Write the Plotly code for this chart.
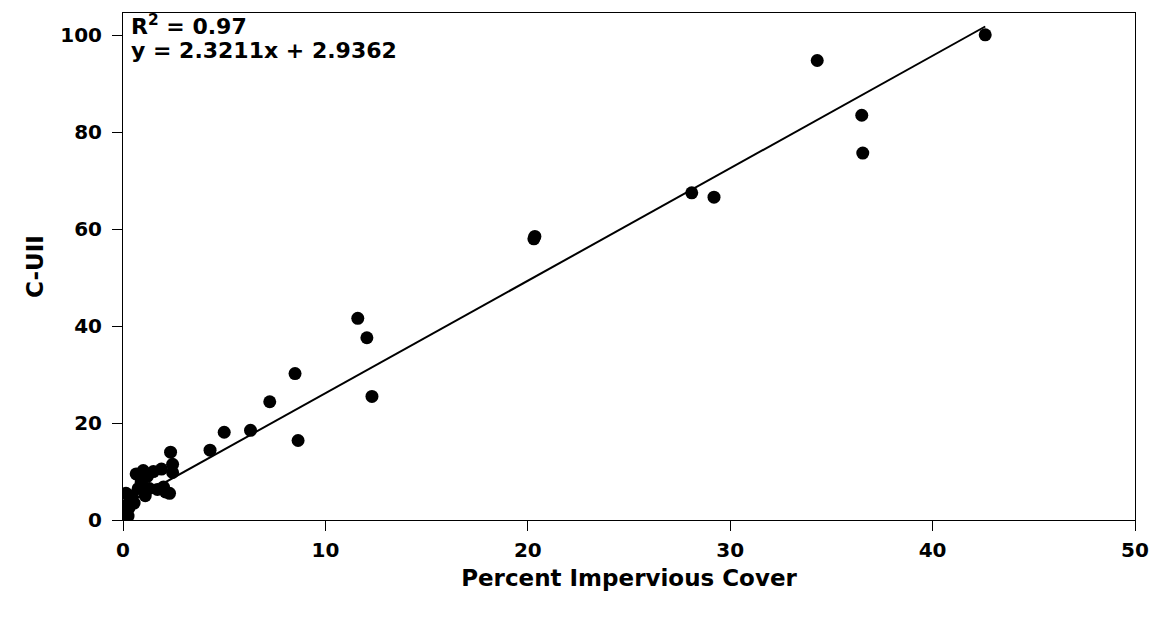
import numpy as np
import plotly.graph_objects as go

# Data
impervious_cover = [0.02, 0.05, 0.10, 0.12, 0.15, 0.20, 0.25, 0.30, 0.35, 0.45,
                    0.55, 0.65, 0.75, 0.90, 1.00, 1.10, 1.20, 1.30, 1.50, 1.70,
                    1.90, 2.00, 2.10, 2.30, 2.35, 2.45, 2.45,
                    4.30, 5.00, 6.30, 7.25, 8.50, 8.65, 11.60, 12.05, 12.30,
                    20.30, 20.35, 28.10, 29.20, 34.30, 36.50, 36.55, 42.60]
c_uii = [0.1, 0.5, 1.2, 3.0, 5.5, 2.0, 0.8, 2.5, 4.0, 5.0,
         3.5, 9.5, 6.5, 7.8, 10.2, 5.0, 9.0, 6.5, 10.0, 6.3,
         10.5, 6.8, 5.8, 5.5, 14.0, 11.5, 9.8,
         14.4, 18.1, 18.5, 24.4, 30.2, 16.4, 41.6, 37.6, 25.5,
         58.0, 58.5, 67.5, 66.6, 94.8, 83.5, 75.7, 100.1]

slope = 2.3211
intercept = 2.9362
r_squared = 0.97

x_ticks = [0, 10, 20, 30, 40, 50]
y_ticks = [0, 20, 40, 60, 80, 100]

FONT = "DejaVu Sans"

fit_x = np.array([min(impervious_cover), max(impervious_cover)])
fit_y = slope * fit_x + intercept

fig = go.Figure()
fig.add_trace(go.Scatter(
    x=fit_x, y=fit_y, mode="lines",
    line=dict(color="black", width=2), showlegend=False, hoverinfo="skip"))
fig.add_trace(go.Scatter(
    x=impervious_cover, y=c_uii, mode="markers",
    marker=dict(color="black", size=13, line=dict(width=0)),
    showlegend=False))

fig.add_annotation(text="<b>R<sup>2</sup> = %.2f</b>" % r_squared,
                   xref="paper", yref="paper", x=0.006, y=0.976,
                   xanchor="left", yanchor="middle", showarrow=False,
                   font=dict(family=FONT, size=22, color="black"))
fig.add_annotation(text="<b>y = %.4fx + %.4f</b>" % (slope, intercept),
                   xref="paper", yref="paper", x=0.006, y=0.927,
                   xanchor="left", yanchor="middle", showarrow=False,
                   font=dict(family=FONT, size=22, color="black"))

fig.update_layout(
    width=1161, height=620,
    margin=dict(l=123, r=18, t=12, b=100),
    paper_bgcolor="white", plot_bgcolor="white",
    font=dict(family=FONT, color="black"),
)
fig.update_xaxes(
    range=[0, 50], tickvals=x_ticks, ticktext=[str(v) for v in x_ticks],
    showgrid=False, zeroline=False,
    showline=True, linecolor="black", linewidth=1, mirror=True,
    ticks="outside", ticklen=10, tickcolor="black", tickwidth=1,
    ticklabelstandoff=2,
    tickfont=dict(family=FONT, size=20, color="black", weight="bold"),
    title=dict(text="<b>Percent Impervious Cover</b>", standoff=8,
               font=dict(family=FONT, size=23, color="black")),
)
fig.update_yaxes(
    range=[0, 104.6], tickvals=y_ticks, ticktext=[str(v) for v in y_ticks],
    showgrid=False, zeroline=False,
    showline=True, linecolor="black", linewidth=1, mirror=True,
    ticks="outside", ticklen=10, tickcolor="black", tickwidth=1,
    ticklabelstandoff=6,
    tickfont=dict(family=FONT, size=20, color="black", weight="bold"),
    title=dict(text="<b>C-UII</b>", standoff=10,
               font=dict(family=FONT, size=23, color="black")),
)

fig.write_html("out.html")
